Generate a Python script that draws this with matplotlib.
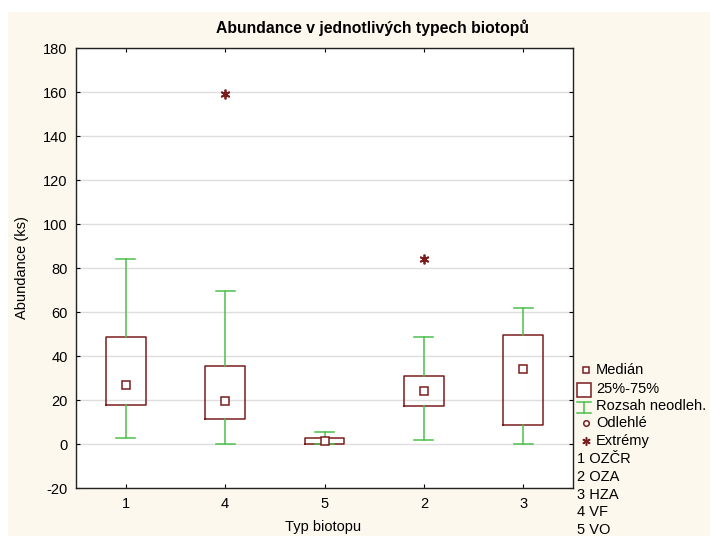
import matplotlib
matplotlib.use("Agg")
import matplotlib.pyplot as plt
from matplotlib.lines import Line2D
from matplotlib.patches import Rectangle

plt.rcParams['font.family'] = ['Liberation Sans', 'DejaVu Sans']
plt.rcParams['axes.unicode_minus'] = False

# data (order as on the x axis)
categories = ["1", "4", "5", "2", "3"]
medians = [27, 19.6, 1.5, 24, 34.3]
q1 = [18, 11.6, 0, 17.5, 8.8]
q3 = [48.7, 35.5, 2.9, 31.2, 49.6]
whisk_lo = [2.9, 0, 0, 1.8, 0]
whisk_hi = [84, 69.7, 5.6, 48.7, 61.8]
extremes = [[], [159], [], [84], []]

legend_labels = ["Medián", "25%-75%", "Rozsah neodleh.", "Odlehlé", "Extrémy"]
type_names = ["1 OZČR", "2 OZA", "3 HZA", "4 VF", "5 VO"]

box_col = "#7a1c1c"
whisk_col = "#4cc04c"
cream = "#fdf8ee"
asterisk = (6, 2, 0)

W, H = 710, 536
fig = plt.figure(figsize=(W / 100, H / 100), dpi=100, facecolor="white")
fig.patches.append(Rectangle((8 / W, 0), 1, 1 - 12 / H, transform=fig.transFigure,
                             facecolor=cream, edgecolor="none", zorder=-10))

ax = fig.add_axes([76 / W, 1 - 488.3 / H, (573 - 76) / W, (488.3 - 48) / H])
ax.set_facecolor("white")

stats = []
for i in range(len(categories)):
    stats.append(dict(med=medians[i], q1=q1[i], q3=q3[i], whislo=whisk_lo[i],
                      whishi=whisk_hi[i], fliers=extremes[i], mean=medians[i]))

ax.bxp(stats, positions=range(len(categories)), widths=0.4, capwidths=0.19,
       showmeans=True, patch_artist=False,
       boxprops=dict(color=box_col, linewidth=1.1),
       whiskerprops=dict(color=whisk_col, linewidth=1.1),
       capprops=dict(color=whisk_col, linewidth=1.1),
       medianprops=dict(visible=False),
       meanprops=dict(marker="s", markersize=5.5, markerfacecolor="white",
                      markeredgecolor=box_col, markeredgewidth=1.1),
       flierprops=dict(marker=asterisk, markersize=7, markeredgewidth=1.3,
                       markerfacecolor=box_col, markeredgecolor=box_col,
                       linestyle="none"))

ax.set_xlim(-0.5, len(categories) - 0.5)
ax.set_ylim(-20, 180)
ax.set_yticks(range(-20, 181, 20))
ax.set_xticks(range(len(categories)))
ax.set_xticklabels(categories)
ax.yaxis.grid(True, color="#dedede", linewidth=1)
ax.set_axisbelow(True)
ax.tick_params(direction="in", length=3, width=0.8, labelsize=10.5, colors="black",
               top=True, right=True, pad=6)
for s in ax.spines.values():
    s.set_linewidth(1)
    s.set_color("#222222")

fig.text(372 / W, 1 - 28 / H, "Abundance v jednotlivých typech biotopů",
         ha="center", va="center", fontsize=11.3, fontweight="bold")
fig.text(22 / W, 1 - 268 / H, "Abundance (ks)", rotation=90, ha="center",
         va="center", fontsize=10.5)
fig.text(323 / W, 1 - 527 / H, "Typ biotopu", ha="center", va="center", fontsize=10.5)

# legend on the right
ys = [370, 389, 406, 423, 441]
mx = 586 / W
fig.lines.append(Line2D([mx], [1 - ys[0] / H], transform=fig.transFigure, marker="s",
                        markersize=4, markerfacecolor="white", markeredgecolor=box_col,
                        markeredgewidth=1.1))
fig.patches.append(Rectangle((577 / W, 1 - 396.5 / H), 14 / W, 14 / H,
                             transform=fig.transFigure, facecolor="white",
                             edgecolor=box_col, linewidth=1.1))
x0, x1, yt, yb = 577 / W, 591 / W, 1 - 401.5 / H, 1 - 413 / H
fig.lines.append(Line2D([x0, x1], [yt, yt], transform=fig.transFigure, color=whisk_col, lw=1.1))
fig.lines.append(Line2D([x0, x1], [yb, yb], transform=fig.transFigure, color=whisk_col, lw=1.1))
fig.lines.append(Line2D([584 / W, 584 / W], [yt, yb], transform=fig.transFigure, color=whisk_col, lw=1.1))
fig.lines.append(Line2D([mx], [1 - ys[3] / H], transform=fig.transFigure, marker="o",
                        markersize=4, markerfacecolor="white", markeredgecolor=box_col,
                        markeredgewidth=1.1))
fig.lines.append(Line2D([mx], [1 - ys[4] / H], transform=fig.transFigure, marker=asterisk,
                        markersize=6, markeredgewidth=1.1, markerfacecolor=box_col,
                        markeredgecolor=box_col))
for lab, y in zip(legend_labels, ys):
    fig.text(596 / W, 1 - y / H, lab, ha="left", va="center", fontsize=10.5)
for k, name in enumerate(type_names):
    fig.text(577 / W, 1 - (459 + 17.8 * k) / H, name, ha="left", va="center", fontsize=10.5)

fig.savefig("out.png", dpi=100, facecolor="white")
